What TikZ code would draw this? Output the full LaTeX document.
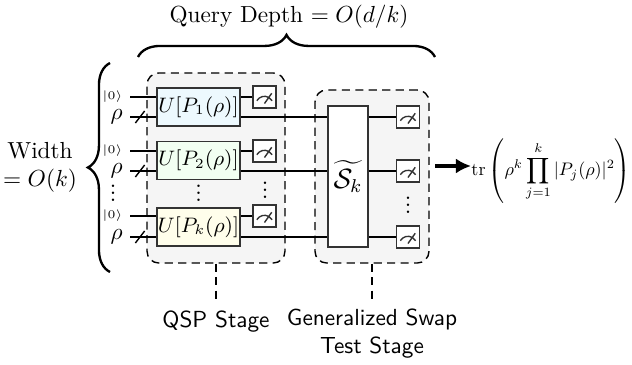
\documentclass[tikz,border=0pt]{standalone}
\usepackage{amsmath, amssymb, graphicx, tikz}
\usetikzlibrary{decorations.pathreplacing, arrows.meta}
\newcommand{\qdots}{\vbox{\baselineskip3pt\lineskiplimit-10pt\hbox{.}\hbox{.}\hbox{.}}}
\tikzset{wire/.style={line width=0.6pt,black}}
\tikzset{gate/.style={draw=black!80,line width=0.8pt,minimum width=35.7pt,minimum height=16.3pt,inner sep=0pt,font=\small}}
\tikzset{swapgate/.style={draw=black!80,line width=0.8pt,fill=white,minimum width=17.2pt,minimum height=60.6pt,inner sep=0pt,font=\large}}
\tikzset{meter/.style={draw=black!80,line width=0.7pt,fill=white,minimum width=9.9pt,minimum height=9.5pt,inner sep=0pt,
  path picture={
    \draw[line width=0.6pt] ([shift={(-3.3pt,-1.6pt)}]path picture bounding box.center) arc[start angle=150,end angle=30,radius=3.8pt];
    \draw[line width=0.6pt] ([shift={(0pt,-2.8pt)}]path picture bounding box.center) -- ++(3.1pt,4.4pt);}}}
\tikzset{stagebox/.style={draw,dash pattern=on 3.5pt off 2.3pt,line width=0.6pt,rounded corners=5pt,fill=black!4,inner sep=0pt}}
\tikzset{stagelink/.style={dash pattern=on 3.5pt off 2.3pt,line width=0.6pt}}
\tikzset{stagetext/.style={font=\sffamily,align=center}}
\tikzset{qlabel/.style={anchor=east,inner sep=3pt}}
\tikzset{dotsnode/.style={inner sep=0pt}}
\tikzset{bigbrace/.style={decorate,decoration={brace,amplitude=9.5pt},line width=1pt}}
\tikzset{outarrow/.style={line width=1.3pt,-{Latex[length=6.5pt,width=6.5pt]}}}

\begin{document}
\begin{tikzpicture}[x=0.43pt,y=-0.43pt]
  \useasboundingbox (0,0) rectangle (632,365);
  % draw the stage boxes and their labels
  \node[stagebox,minimum width=59.3pt,minimum height=81.7pt] (qsp) at (216,168) {};
  \node[stagebox,minimum width=49pt,minimum height=74.4pt] (swaptest) at (372,176.5) {};
  \node[stagetext] (qsplabel) at (216,322) {QSP Stage};
  \node[stagetext] (swaplabel) at (372,333.5) {Generalized Swap\\Test Stage};
  \draw[stagelink] (qsp.south) -- (qsplabel.north);
  \draw[stagelink] (swaptest.south) -- (swaplabel.north);
  % draw the braces
  \draw[bigbrace] (138,57) -- (435,57);
  \draw[bigbrace] (110,272) -- (110,63);
  \node (depth) at (289,17) {Query Depth $= O(d/k)$};
  \node[align=center] (width) at (40,167) {Width\\$= O(k)$};
  % draw the gates
  \node[gate,fill=cyan!7] (u1) at (198.5,107) {$U[P_1(\rho)]$};
  \node[gate,fill=green!5] (u2) at (198.5,160.5) {$U[P_2(\rho)]$};
  \node[gate,fill=yellow!8] (uk) at (198.5,227) {$U[P_k(\rho)]$};
  \node[swapgate] (swap) at (348,176.5) {$\widetilde{\mathcal{S}_k}$};
  % draw the meters
  \node[meter] (m1) at (264.5,97) {};
  \node[meter] (m2) at (264.5,151) {};
  \node[meter] (mk) at (264.5,216) {};
  \node[meter] (n1) at (408,117) {};
  \node[meter] (n2) at (408,171) {};
  \node[meter] (nk) at (408,237) {};
  % draw the wires
  \coordinate (a1) at (130,97);
  \coordinate (s1) at (130,117);
  \coordinate (a2) at (130,151);
  \coordinate (s2) at (130,171);
  \coordinate (ak) at (130,216);
  \coordinate (sk) at (130,237);
  \draw[wire] (a1) -- (a1 -| u1.west) (a1 -| u1.east) -- (m1.west);
  \draw[wire] (a2) -- (a2 -| u2.west) (a2 -| u2.east) -- (m2.west);
  \draw[wire] (ak) -- (ak -| uk.west) (ak -| uk.east) -- (mk.west);
  \draw[wire] (s1) -- (s1 -| u1.west) (s1 -| u1.east) -- (s1 -| swap.west) (s1 -| swap.east) -- (n1.west);
  \draw[wire] (s2) -- (s2 -| u2.west) (s2 -| u2.east) -- (s2 -| swap.west) (s2 -| swap.east) -- (n2.west);
  \draw[wire] (sk) -- (sk -| uk.west) (sk -| uk.east) -- (sk -| swap.west) (sk -| swap.east) -- (nk.west);
  % draw the register slashes
  \coordinate (c1) at (140,117);
  \coordinate (c2) at (140,171);
  \coordinate (ck) at (140,237);
  \draw[wire] ([shift={(-2pt,-2.6pt)}]c1) -- ([shift={(2pt,2.6pt)}]c1);
  \draw[wire] ([shift={(-2pt,-2.6pt)}]c2) -- ([shift={(2pt,2.6pt)}]c2);
  \draw[wire] ([shift={(-2pt,-2.6pt)}]ck) -- ([shift={(2pt,2.6pt)}]ck);
  % draw the input labels
  \node[qlabel,font=\tiny] (l-a1) at (a1) {$|0\rangle$};
  \node[qlabel] (l-s1) at (s1) {$\rho$};
  \node[qlabel,font=\tiny] (l-a2) at (a2) {$|0\rangle$};
  \node[qlabel] (l-s2) at (s2) {$\rho$};
  \node[qlabel,font=\tiny] (l-ak) at (ak) {$|0\rangle$};
  \node[qlabel] (l-sk) at (sk) {$\rho$};
  % draw the dots
  \node[dotsnode] (d0) at (113,193) {\qdots};
  \node[dotsnode] (d1) at (198.5,193) {\qdots};
  \node[dotsnode] (d2) at (265,190) {\qdots};
  \node[dotsnode] (d3) at (408,205) {\qdots};
  % draw the output
  \coordinate (out) at (435,166);
  \node[anchor=west,inner sep=0pt] (result) at (471,171) {\resizebox{68.5pt}{!}{$\displaystyle\mathrm{tr}\left(\rho^k\prod_{j=1}^{k}|P_j(\rho)|^2\right)$}};
  \draw[outarrow] (out) -- (out -| result.west);
\end{tikzpicture}
\end{document}
